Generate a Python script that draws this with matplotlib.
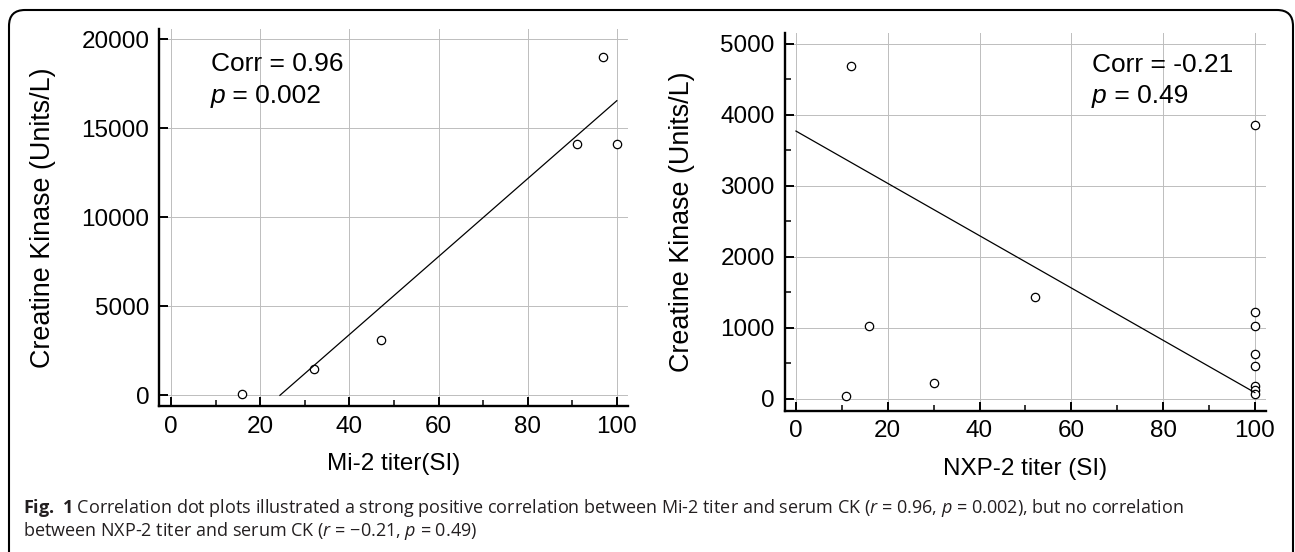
import numpy as np
import matplotlib
matplotlib.use("Agg")
import matplotlib.pyplot as plt
from matplotlib.patches import FancyBboxPatch
from matplotlib.ticker import MultipleLocator
from matplotlib.transforms import IdentityTransform, offset_copy

plt.rcParams['font.family'] = ['Liberation Sans', 'DejaVu Sans']
plt.rcParams['mathtext.fontset'] = 'custom'
plt.rcParams['mathtext.rm'] = 'Open Sans'
plt.rcParams['mathtext.it'] = 'Open Sans:italic'
plt.rcParams['mathtext.bf'] = 'Open Sans:bold'

# Mi-2 panel
mi2_titer = [16, 32, 47, 91, 97, 100]
mi2_ck = [100, 1480, 3100, 14100, 19000, 14100]
mi2_fit_x = [24.4, 100]
mi2_fit_y = [0, 16550]

# NXP-2 panel
nxp2_titer = [11, 12, 16, 30, 52, 100, 100, 100, 100, 100, 100, 100, 100]
nxp2_ck = [40, 4680, 1030, 220, 1430, 3860, 1230, 1030, 630, 470, 180, 130, 70]
nxp2_fit_x = [0, 100]
nxp2_fit_y = [3770, 90]

ylabel = "Creatine Kinase (Units/L)"

fig = plt.figure(figsize=(12.95, 5.52), dpi=100)
ax1 = fig.add_axes([0.1229, 0.2645, 0.3620, 0.6830])
ax2 = fig.add_axes([0.6058, 0.2560, 0.3717, 0.6842])


def style(ax, xlim, ylim, ystep, yminor):
    ax.set_xlim(*xlim)
    ax.set_ylim(*ylim)
    ax.xaxis.set_major_locator(MultipleLocator(20))
    ax.xaxis.set_minor_locator(MultipleLocator(10))
    ax.yaxis.set_major_locator(MultipleLocator(ystep))
    if yminor:
        ax.yaxis.set_minor_locator(MultipleLocator(ystep / 2))
    for s in ['top', 'right']:
        ax.spines[s].set_visible(False)
    for s in ['left', 'bottom']:
        ax.spines[s].set_linewidth(1.7)
    ax.tick_params(which='major', direction='in', length=6.5, width=1.4,
                   labelsize=17.5, pad=7)
    ax.tick_params(which='minor', direction='in', length=4.5, width=1.1)
    ax.grid(True, which='major', color='#bdbdbd', lw=0.7)
    ax.set_axisbelow(True)
    ax.set_ylabel(ylabel, fontsize=19.4, labelpad=18)


style(ax1, (-2.7, 102.5), (-600, 20580), 5000, False)
style(ax2, (-2.5, 102.4), (-165, 5150), 1000, True)

ax1.plot(mi2_titer, mi2_ck, 'o', ms=6, mfc='white', mec='black', mew=0.9)
ax1.plot(mi2_fit_x, mi2_fit_y, color='black', lw=0.9)
ax1.set_xlabel("Mi-2 titer(SI)", fontsize=17.5, labelpad=11)

ax2.plot(nxp2_titer, nxp2_ck, 'o', ms=6, mfc='white', mec='black', mew=0.9)
ax2.plot(nxp2_fit_x, nxp2_fit_y, color='black', lw=0.9)
ax2.set_xlabel("NXP-2 titer (SI)", fontsize=17.5, labelpad=11)


def stats(ax, x, y1, y2, corr, pval):
    ax.text(x, y1, corr, transform=ax.transAxes, fontsize=19, va='baseline')
    ax.text(x, y2, "p", transform=ax.transAxes, fontsize=19, va='baseline',
            style='italic')
    tr = offset_copy(ax.transAxes, fig=fig, x=10.6, y=0, units='points')
    ax.text(x, y2, " = " + pval, transform=tr, fontsize=19, va='baseline')


stats(ax1, 0.1096, 0.8886, 0.8037, "Corr = 0.96", "0.002")
stats(ax2, 0.639, 0.8975, 0.8155, "Corr = -0.21", "0.49")

# caption
fig.text(0.0175, 1 - 513 / 552,
         r"$\mathbf{Fig.\ 1}$ Correlation dot plots illustrated a strong positive "
         r"correlation between Mi-2 titer and serum CK ($r$ = 0.96, $p$ = 0.002), "
         r"but no correlation",
         fontsize=13, family='Open Sans', va='baseline', color='#231f20')
fig.text(0.0175, 1 - 536 / 552,
         "between NXP-2 titer and serum CK ($r$ = \u22120.21, $p$ = 0.49)",
         fontsize=13, family='Open Sans', va='baseline', color='#231f20')

# rounded frame around the figure
frame = FancyBboxPatch((9, -30), 1284, 572, boxstyle="round,pad=0,rounding_size=16",
                       transform=IdentityTransform(), fill=False,
                       edgecolor='black', lw=1.5)
fig.add_artist(frame)

fig.savefig("out.png", dpi=100)
